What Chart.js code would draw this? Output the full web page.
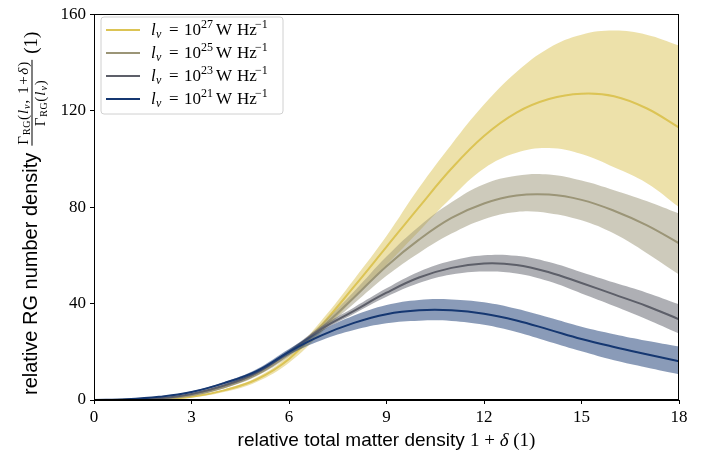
<!DOCTYPE html>
<html>
<head>
<meta charset="utf-8">
<script src="https://cdn.jsdelivr.net/npm/chart.js@4.4.1/dist/chart.umd.min.js"></script>
<style>
html,body{margin:0;padding:0;background:#fff;}
#wrap{width:713px;height:455px;position:relative;}
</style>
</head>
<body>
<div id="wrap"><canvas id="c" width="713" height="455"></canvas></div>
<script>
// ---- data ----
const densities = [0,1,2,3,4,5,6,7,8,9,10,11,12,13,14,15,16,17,18];
const xTicks = [0,3,6,9,12,15,18];
const yTicks = [0,40,80,120,160];
const seriesExp = ['27','25','23','21'];

const mean27 = [0,0.05,0.3,1.3,4,8.5,17,31,47,63.5,80,96,109.5,119.2,124.8,127,126,121,113];
const lo27   = [0,0.03,0.2,1,3.3,7.5,15.5,28,42,56,70,84,96,102.5,104.5,102,96.5,90,80];
const hi27   = [0,0.07,0.4,1.6,4.4,9.3,18.5,33,50,68,88,106,122.5,136,146,151.5,153.2,151.5,147];

const mean25 = [0,0.08,0.5,2,5.3,10.5,19,30,42.5,55.5,66.5,75.5,81.5,84.8,85.2,83,78.5,72.5,65];
const lo25   = [0,0.06,0.4,1.7,4.8,9.8,18,28.5,40,51.5,61,69,75,78,77.5,74.5,69,61,52];
const hi25   = [0,0.1,0.6,2.3,5.8,11.2,20,31.5,45,59.5,72,82,89.5,93,93.5,91,87,82.5,77.3];

const mean23 = [0,0.12,0.7,2.5,6,11.3,20,29.5,37,44.5,50.8,54.8,56.6,56,53,48.5,43.8,39,33.5];
const lo23   = [0,0.1,0.6,2.3,5.6,10.8,19.3,28.5,35.8,42.8,48.5,52,53.3,52.5,49.2,44.2,39,33.5,27.6];
const hi23   = [0,0.14,0.8,2.7,6.4,11.8,20.8,30.6,38.4,46.3,53.2,57.7,60,59.8,57.2,53,48.7,44.5,39.7];

const mean21 = [0,0.3,1.3,3.3,7,12,20,26.8,32,35.6,37.2,37.2,35.8,33,29.2,25.3,22,19,16.1];
const lo21   = [0,0.25,1.1,3,6.5,11.2,18.8,24.8,29,31.8,32.9,32.8,31.2,28.2,24.2,20.2,16.5,13.5,10.7];
const hi21   = [0,0.35,1.5,3.6,7.5,12.8,21.2,28.8,35,39.4,41.5,41.7,40.5,37.8,34.2,30.4,27.3,24.6,22.2];

// ---- styling ----
const lineColors = {'27':'#dcc455','25':'#9b9577','23':'#5d5f69','21':'#153771'};
const bandColors = {'27':'rgba(220,196,85,0.5)','25':'rgba(155,149,119,0.5)','23':'rgba(93,95,105,0.5)','21':'rgba(21,55,113,0.5)'};
const groups = {
  '27':[mean27,lo27,hi27],
  '25':[mean25,lo25,hi25],
  '23':[mean23,lo23,hi23],
  '21':[mean21,lo21,hi21]
};
const pts = arr => densities.map((x,i)=>({x:x,y:arr[i]}));

const datasets = [];
['21','23','25','27'].forEach(k=>{
  const [m,lo,hi] = groups[k];
  const base = datasets.length;
  datasets.push({label:'m'+k,data:pts(m),borderColor:lineColors[k],borderWidth:2,pointRadius:0,fill:false,tension:0.4});
  datasets.push({label:'lo'+k,data:pts(lo),borderWidth:0,borderColor:'rgba(0,0,0,0)',pointRadius:0,fill:false,tension:0.4});
  datasets.push({label:'hi'+k,data:pts(hi),borderWidth:0,borderColor:'rgba(0,0,0,0)',pointRadius:0,fill:{target:base+1},backgroundColor:bandColors[k],tension:0.4});
});

const SERIF = '"Liberation Serif", "DejaVu Serif", serif';
const SANS = '"Liberation Sans", "DejaVu Sans", sans-serif';

function runW(ctx,r){
  ctx.font=r.f; const ls=r.ls||0;
  if(!ls) return ctx.measureText(r.t).width + (r.g||0);
  let w=0; for(const ch of r.t){w+=ctx.measureText(ch).width+ls;} return w+(r.g||0);
}
function runsWidth(ctx, runs){ let w=0; runs.forEach(r=>{w+=runW(ctx,r);}); return w; }
function drawRuns(ctx, runs, x, y){
  let cx=x;
  runs.forEach(r=>{
    cx += (r.g||0);
    ctx.font=r.f;
    const ls=r.ls||0;
    if(!ls){ ctx.fillText(r.t,cx,y+(r.dy||0)); cx+=ctx.measureText(r.t).width; }
    else { for(const ch of r.t){ ctx.fillText(ch,cx,y+(r.dy||0)); cx+=ctx.measureText(ch).width+ls; } }
  });
  return cx;
}

const decor = {
  id:'decor',
  afterDraw(chart){
    const ctx = chart.ctx;
    const a = chart.chartArea;
    ctx.save();
    ctx.strokeStyle='#000'; ctx.lineWidth=1;
    ctx.strokeRect(Math.round(a.left)+0.5, Math.round(a.top)+0.5, Math.round(a.right-a.left)-1, Math.round(a.bottom-a.top)-1);

    ctx.fillStyle='#000';
    ctx.textBaseline='alphabetic';
    ctx.textAlign='left';
    // x title
    const xr = [
      {t:'relative total matter density ', f:'19px '+SANS},
      {t:'1 + ', f:'19px '+SERIF},
      {t:'δ', f:'italic 19px '+SERIF},
      {t:' (1)', f:'19px '+SERIF}
    ];
    const xw = runsWidth(ctx,xr);
    drawRuns(ctx,xr,(a.left+a.right)/2 - xw/2, 446);

    // y title (rotated)
    ctx.save();
    ctx.translate(0,400);
    ctx.rotate(-Math.PI/2);
    let u = drawRuns(ctx,[{t:'relative RG number density', f:'20px '+SANS}], 5, 37);
    u += 7;
    const num = [
      {t:'Γ', f:'15px '+SERIF, ls:1},
      {t:'RG', f:'10px '+SERIF, dy:2, ls:0.5},
      {t:'(', f:'15px '+SERIF, ls:1},
      {t:'l', f:'italic 15px '+SERIF, ls:1},
      {t:'ν', f:'italic 10px '+SERIF, dy:2, ls:1},
      {t:',', f:'15px '+SERIF, ls:1},
      {t:'1+', f:'15px '+SERIF, ls:1.5, g:5},
      {t:'δ', f:'italic 15px '+SERIF, ls:1},
      {t:')', f:'15px '+SERIF, ls:1}
    ];
    const den = [
      {t:'Γ', f:'15px '+SERIF, ls:1},
      {t:'RG', f:'10px '+SERIF, dy:2, ls:0.5},
      {t:'(', f:'15px '+SERIF, ls:1},
      {t:'l', f:'italic 15px '+SERIF, ls:1},
      {t:'ν', f:'italic 10px '+SERIF, dy:2, ls:1},
      {t:')', f:'15px '+SERIF, ls:1}
    ];
    const nw = runsWidth(ctx,num), dw = runsWidth(ctx,den);
    const fw = Math.max(nw,dw)+2;
    drawRuns(ctx,num,u+(fw-nw)/2,28);
    drawRuns(ctx,den,u+(fw-dw)/2,45);
    ctx.fillRect(u,31.5,fw,1);
    drawRuns(ctx,[{t:'(1)', f:'19px '+SERIF}], u+fw+6, 37);
    ctx.restore();

    // legend
    const lx=101, ly=17, lw=182, lh=97;
    ctx.beginPath();
    const r=3;
    ctx.moveTo(lx+r,ly); ctx.lineTo(lx+lw-r,ly); ctx.quadraticCurveTo(lx+lw,ly,lx+lw,ly+r);
    ctx.lineTo(lx+lw,ly+lh-r); ctx.quadraticCurveTo(lx+lw,ly+lh,lx+lw-r,ly+lh);
    ctx.lineTo(lx+r,ly+lh); ctx.quadraticCurveTo(lx,ly+lh,lx,ly+lh-r);
    ctx.lineTo(lx,ly+r); ctx.quadraticCurveTo(lx,ly,lx+r,ly); ctx.closePath();
    ctx.fillStyle='rgba(255,255,255,0.8)'; ctx.fill();
    ctx.strokeStyle='#d0d0d0'; ctx.lineWidth=1; ctx.stroke();
    const rowsY=[30,53,76,99];
    seriesExp.forEach((k,i)=>{
      const yy=rowsY[i];
      ctx.strokeStyle=lineColors[k]; ctx.lineWidth=2;
      ctx.beginPath(); ctx.moveTo(106,yy); ctx.lineTo(140,yy); ctx.stroke();
      ctx.fillStyle='#000';
      const b=yy+5, x0=151;
      ctx.font='italic 17px '+SERIF; ctx.fillText('l',x0,b);
      ctx.font='italic 12px '+SERIF; ctx.fillText('ν',x0+5,b+3);
      ctx.font='17px '+SERIF; ctx.fillText('=',x0+18,b);
      ctx.fillText('10',x0+33,b);
      ctx.font='12px '+SERIF; ctx.fillText(k,x0+50,b-7);
      ctx.font='17px '+SERIF; ctx.fillText('W',x0+65,b);
      ctx.fillText('Hz',x0+86,b);
      ctx.font='12px '+SERIF; ctx.fillText('−1',x0+104,b-7);
    });
    ctx.restore();
  }
};

new Chart(document.getElementById('c'),{
  type:'line',
  data:{datasets:datasets},
  options:{
    responsive:false,
    animation:false,
    devicePixelRatio:1,
    layout:{padding:{left:0,right:34,top:10,bottom:0}},
    plugins:{legend:{display:false},tooltip:{enabled:false},filler:{propagate:false}},
    scales:{
      x:{type:'linear',min:0,max:18,
        afterBuildTicks(s){s.ticks=xTicks.map(v=>({value:v}));},
        afterFit(s){s.height=55;},
        ticks:{color:'#000',font:{family:SERIF,size:17},padding:3,maxRotation:0},
        grid:{display:true,drawOnChartArea:false,drawTicks:true,tickLength:4,tickColor:'#000'},
        border:{display:true,color:'#000',width:1}
      },
      y:{min:0,max:160,
        afterBuildTicks(s){s.ticks=yTicks.map(v=>({value:v}));},
        afterFit(s){s.width=94;},
        ticks:{color:'#000',font:{family:SERIF,size:17},padding:4},
        grid:{display:true,drawOnChartArea:false,drawTicks:true,tickLength:4,tickColor:'#000'},
        border:{display:true,color:'#000',width:1}
      }
    }
  },
  plugins:[decor]
});
</script>
</body>
</html>
